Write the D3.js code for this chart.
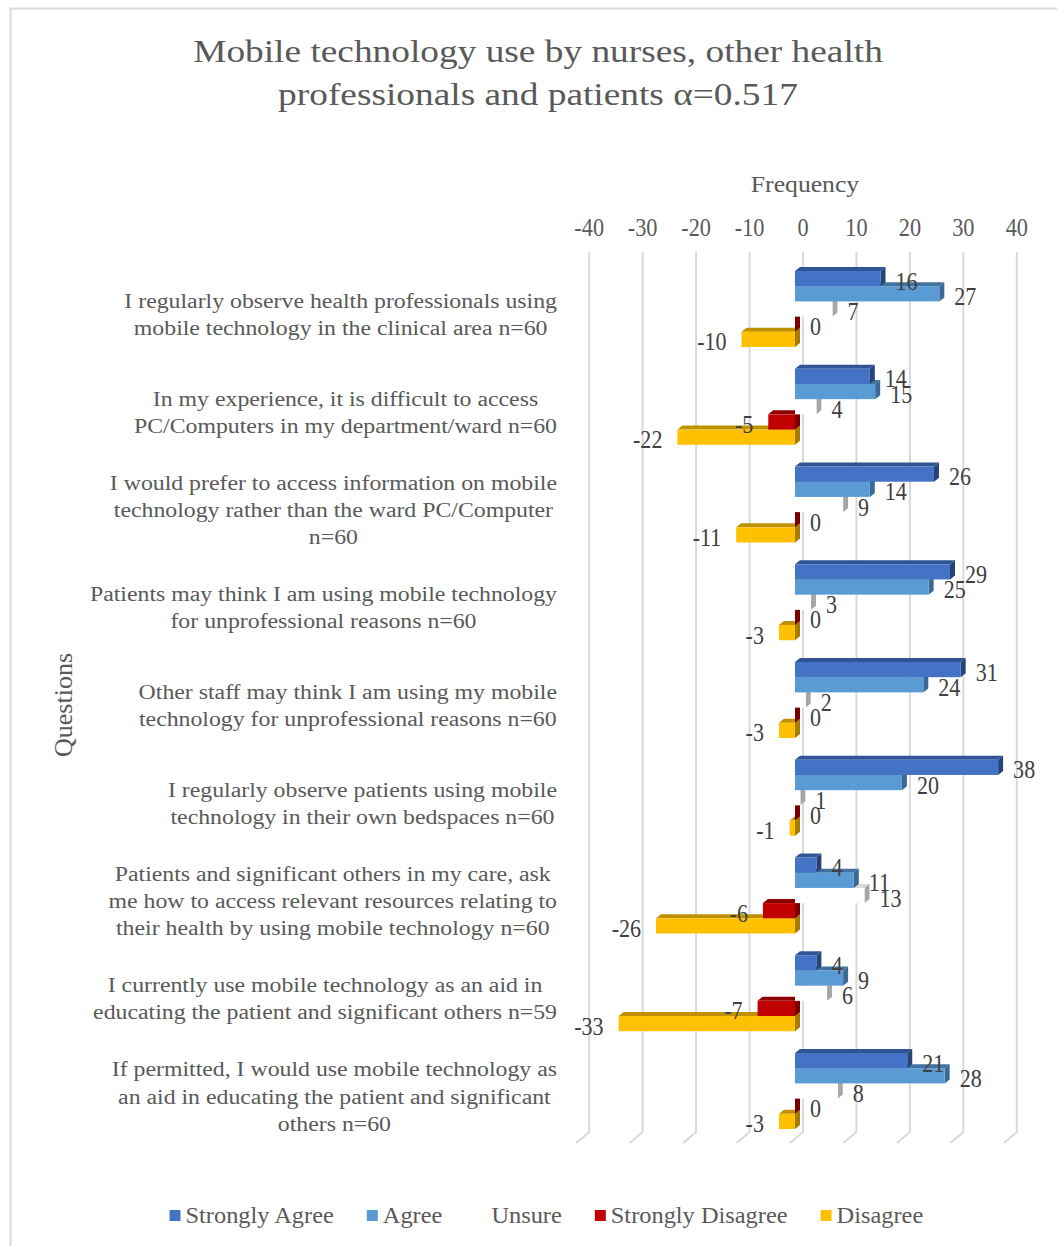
<!DOCTYPE html>
<html>
<head>
<meta charset="utf-8">
<script src="https://cdn.jsdelivr.net/npm/d3@7"></script>
<style>
  html, body { margin: 0; padding: 0; background: #fff; }
  svg { display: block; }
</style>
</head>
<body>
<svg id="chart" width="1057" height="1246"></svg>
<script>
// ---------------- data ----------------
const categories = [
  ["I regularly observe health professionals using", "mobile technology in the clinical area n=60"],
  ["In my experience, it is difficult to access", "PC/Computers in my department/ward n=60"],
  ["I would prefer to access information on mobile", "technology rather than the ward PC/Computer", "n=60"],
  ["Patients may think I am using mobile technology", "for unprofessional reasons n=60"],
  ["Other staff may think I am using my mobile", "technology for unprofessional reasons n=60"],
  ["I regularly observe patients using mobile", "technology in their own bedspaces n=60"],
  ["Patients and significant others in my care, ask", "me how to access relevant resources relating to", "their health by using mobile technology n=60"],
  ["I currently use mobile technology as an aid in", "educating the patient and significant others n=59"],
  ["If permitted, I would use mobile technology as", "an aid in educating the patient and significant", "others n=60"]
];
const seriesNames = ["Strongly Agree", "Agree", "Unsure", "Strongly Disagree", "Disagree"];
const stronglyAgree    = [16, 14, 26, 29, 31, 38, 4, 4, 21];
const agree            = [27, 15, 14, 25, 24, 20, 11, 9, 28];
const unsure           = [7, 4, 9, 3, 2, 1, 13, 6, 8];
const stronglyDisagree = [0, -5, 0, 0, 0, 0, -6, -7, 0];
const disagree         = [-10, -22, -11, -3, -3, -1, -26, -33, -3];
const xTicks = [-40, -30, -20, -10, 0, 10, 20, 30, 40];
const titleLines = ["Mobile technology use by nurses, other health", "professionals and patients \u03b1=0.517"];
const xAxisTitle = "Frequency";
const yAxisTitle = "Questions";

const seriesValues = [stronglyAgree, agree, unsure, stronglyDisagree, disagree];
const seriesFront = ["#4472C4", "#5B9BD5", "#FFFFFF", "#C00000", "#FFC000"];
const seriesTop   = ["#2F5597", "#41719C", "#D9D9D9", "#8E0000", "#BF9000"];
const seriesSide  = ["#264478", "#3A6A94", "#A6A6A6", "#7A0000", "#A67C00"];
const legendSwatch = ["#4472C4", "#5B9BD5", "none", "#C00000", "#FFC000"];

// ---------------- layout ----------------
const FONT = "'Liberation Serif', 'Times New Roman', serif";
const svg = d3.select("#chart");
const catIdx = categories.map((d, i) => i);

// chart border
svg.append("rect").attr("x", 10.5).attr("y", 8.5).attr("width", 1100).attr("height", 1300)
  .attr("fill", "none").attr("stroke", "#d9d9d9").attr("stroke-width", 2);

const x = d3.scaleLinear().domain([-40, 40]).range([589.2, 1016.8]);
const step = 97.75;
const y = d3.scaleBand().domain(catIdx)
  .range([271 - step * 0.11, 271 - step * 0.11 + step * (9 - 0.2225 + 0.22)])
  .paddingInner(0.2225).paddingOuter(0.11);
const ys = d3.scaleBand().domain(d3.range(5)).range([0, y.bandwidth()]);

const FRONT_DX = -8;   // front face shift relative to back wall
const DX = 5, DY = 4;  // bar depth
const xb = v => x(v) + FRONT_DX;

function stretchedText(g, tx, ty, txt, size, sx, anchor, color) {
  return g.append("text")
    .attr("transform", `translate(${tx},${ty}) scale(${sx},1)`)
    .attr("text-anchor", anchor)
    .attr("font-family", FONT)
    .attr("font-size", size)
    .attr("fill", color)
    .text(txt);
}

// gridlines (back wall + floor)
const gridTop = 252, gridBottom = 1132;
const grid = svg.append("g");
xTicks.forEach(t => {
  const gx = x(t);
  grid.append("path")
    .attr("d", `M${gx},${gridTop} L${gx},${gridBottom} L${gx - 13},${gridBottom + 11}`)
    .attr("fill", "none").attr("stroke", "#d9d9d9").attr("stroke-width", 2);
});

// tick labels
const ticksG = svg.append("g");
xTicks.forEach(t => {
  stretchedText(ticksG, x(t), 236, String(t), 24.5, 0.91, "middle", "#595959");
});

// axis titles
stretchedText(svg, x(0) + 2, 192, xAxisTitle, 24, 1.07, "middle", "#595959");
svg.append("text")
  .attr("transform", "translate(72,705) rotate(-90)")
  .attr("text-anchor", "middle").attr("font-family", FONT).attr("font-size", 26)
  .attr("fill", "#595959").text(yAxisTitle);

// title
titleLines.forEach((t, i) => {
  stretchedText(svg, 538, 62 + i * 43, t, 31, 1.205, "middle", "#595959");
});

// category labels
const catG = svg.append("g");
categories.forEach((lines, ci) => {
  const center = y(ci) + y.bandwidth() / 2 + 5.5;
  const lh = 27.3;
  const first = center - (lines.length - 1) * lh / 2 + 7;
  const nodes = lines.map((ln, li) => stretchedText(catG, 0, 0, ln, 20, 1.19, "middle", "#595959"));
  const widths = nodes.map(n => n.node().getComputedTextLength() * 1.19);
  const W = d3.max(widths);
  const cx = 557 - W / 2;
  nodes.forEach((n, li) => n.attr("transform", `translate(${cx},${first + li * lh}) scale(1.19,1)`));
});

// bars (draw lower series first so upper series cover their top faces)
const barsG = svg.append("g");
for (let s = 4; s >= 0; s--) {
  const vals = seriesValues[s];
  const g = barsG.append("g");
  vals.forEach((v, ci) => {
    const y0 = y(ci) + ys(s);
    const h = ys.bandwidth();
    const xL = Math.min(xb(0), xb(v)), xR = Math.max(xb(0), xb(v));
    // top face
    g.append("polygon")
      .attr("points", [[xL, y0], [xL + DX, y0 - DY], [xR + DX, y0 - DY], [xR, y0]].join(" "))
      .attr("fill", seriesTop[s]);
    // side face
    g.append("polygon")
      .attr("points", [[xR, y0], [xR + DX, y0 - DY], [xR + DX, y0 + h - DY], [xR, y0 + h]].join(" "))
      .attr("fill", seriesSide[s]);
    // front face
    g.append("rect").attr("x", xL).attr("y", y0).attr("width", xR - xL).attr("height", h)
      .attr("fill", seriesFront[s]);
  });
}

// data labels
const labG = svg.append("g");
seriesValues.forEach((vals, s) => {
  vals.forEach((v, ci) => {
    const cy = y(ci) + ys(s) + ys.bandwidth() / 2;
    const neg = v < 0;
    const lx = neg ? xb(v) - 15 : xb(v) + 15;
    stretchedText(labG, lx, cy + 11, String(v), 24.5, 0.9, neg ? "end" : "start", "#404040");
  });
});

// legend
const legG = svg.append("g");
let lx = 169.5;
seriesNames.forEach((name, s) => {
  if (legendSwatch[s] !== "none") {
    legG.append("rect").attr("x", lx).attr("y", 1210).attr("width", 11).attr("height", 11)
      .attr("fill", legendSwatch[s]);
  }
  const t = stretchedText(legG, lx + 16, 1223, name, 22.7, 1.075, "start", "#595959");
  const w = t.node().getComputedTextLength() * 1.075;
  lx = lx + 16 + w + 33;
});
</script>
</body>
</html>
